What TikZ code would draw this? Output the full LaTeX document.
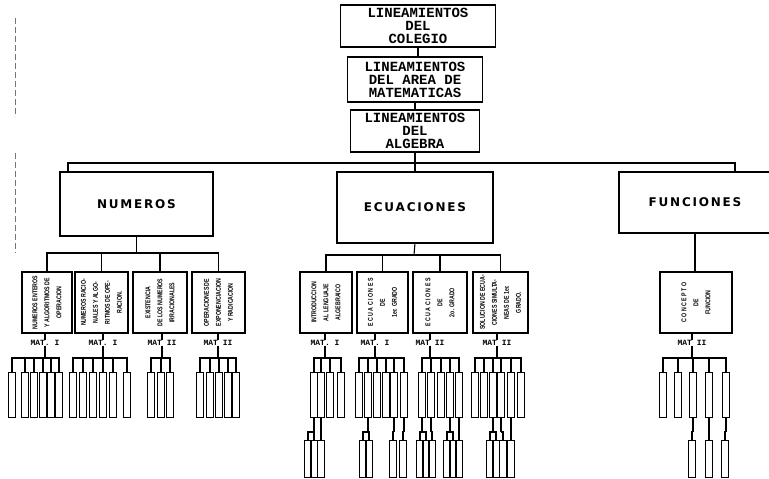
\documentclass[tikz,border=0pt]{standalone}
\usepackage{fontspec}
\usepackage{graphicx}
\setmainfont{Liberation Sans}
\newfontfamily\typefont{Liberation Mono}
\newfontfamily\headfont{DejaVu Sans}[LetterSpace=15]
\newfontfamily\narrowfont{Liberation Sans}[FakeStretch=0.75]
\usetikzlibrary{positioning}

\newcommand{\upright}[1]{\rotatebox{90}{\begin{tabular}{@{}c@{}}#1\end{tabular}}}

\begin{document}
\begin{tikzpicture}[
    x=1pt, y=-1pt,
    line width=1.1pt,
    every node/.style={inner sep=0pt, outer sep=0pt},
    topbox/.style={draw, align=center,
                   font=\typefont\bfseries\fontsize{14}{13}\selectfont},
    areabox/.style={draw, align=center,
                    font=\headfont\bfseries\fontsize{12}{14}\selectfont},
    subbox/.style={draw, minimum height=61pt,
                   font=\narrowfont\bfseries\fontsize{7}{12}\selectfont},
    matlabel/.style={font=\typefont\bfseries\fontsize{8}{9}\selectfont},
    leaf/.style={draw, minimum width=6.5pt, minimum height=45pt, line width=1pt},
    scanedge/.style={draw=black!55, line width=0.6pt, dash pattern=on 6pt off 3pt},
]
\useasboundingbox (0,0) rectangle (769,479);

% Top column of guideline boxes
\node[topbox, minimum width=155pt, minimum height=42pt] (colegio) at (418,26)
      {LINEAMIENTOS\\DEL\\COLEGIO};
\node[topbox, minimum width=135pt, minimum height=45pt, xshift=-3pt] (area) [below=10pt of colegio]
      {LINEAMIENTOS\\DEL AREA DE\\MATEMATICAS};
\node[topbox, minimum width=129pt, minimum height=42pt] (algebra) [below=8pt of area]
      {LINEAMIENTOS\\DEL\\ALGEBRA};

% Three main areas
\node[areabox, minimum width=153pt, minimum height=64pt] (numeros)    at (136.5,204) {NUMEROS};
\node[areabox, minimum width=156pt, minimum height=71pt] (ecuaciones) at (415,207.5) {ECUACIONES};
\node[areabox, minimum width=152pt, minimum height=61pt] (funciones)  at (695,202.5) {FUNCIONES};

% Topic boxes (text turned upright)
\node[subbox, minimum width=50pt] (n1) at (47,302.5)
      {\upright{NUMEROS ENTEROS\\Y ALGORITMOS DE\\OPERACION}};
\node[subbox, minimum width=53pt] (n2) at (101.5,302.5)
      {\upright{NUMEROS RACIO-\\NALES Y ALGO-\\RITMOS DE OPE-\\RACION.}};
\node[subbox, minimum width=54pt] (n3) at (160,302.5)
      {\upright{EXISTENCIA\\DE LOS NUMEROS\\IRRACIONALES}};
\node[subbox, minimum width=53pt] (n4) at (218.5,302.5)
      {\upright{OPERACIONES DE\\EXPONENCIACION\\Y RADICACION}};
\node[subbox, minimum width=52pt] (e1) at (326,302.5)
      {\upright{INTRODUCCION\\AL LENGUAJE\\ALGEBRAICO}};
\node[subbox, minimum width=51pt] (e2) at (382.5,302.5)
      {\upright{E C U A C I O N E S\\DE\\1er. GRADO}};
\node[subbox, minimum width=54pt] (e3) at (440,302.5)
      {\upright{E C U A C I O N E S\\DE\\2o. GRADO}};
\node[subbox, minimum width=55pt] (e4) at (500.5,302.5)
      {\upright{SOLUCION DE ECUA-\\CIONES SIMULTA-\\NEAS DE 1er.\\GRADO.}};
\node[subbox, minimum width=72pt] (f1) at (696,302.5)
      {\upright{C O N C E P T O\\DE\\FUNCION}};

% Course labels
\node[matlabel] (matn1) at (45,343)  {MAT. I};
\node[matlabel] (matn2) at (103,343) {MAT. I};
\node[matlabel] (matn3) at (162,343) {MAT II};
\node[matlabel] (matn4) at (218,343) {MAT II};
\node[matlabel] (mate1) at (325,343) {MAT. I};
\node[matlabel] (mate2) at (375,343) {MAT. I};
\node[matlabel] (mate3) at (430,343) {MAT II};
\node[matlabel] (mate4) at (497,343) {MAT II};
\node[matlabel] (matf1) at (692,343) {MAT II};

% Connectors from the top column
\draw (colegio) -- (colegio.south |- area.north);
\draw (area) -- (area.south |- algebra.north);
\coordinate (abus) at (416,163);
\draw (algebra.south) -- (algebra.south |- ecuaciones.north);
\draw ([xshift=8pt]numeros.north west) |- (abus);
\draw ([xshift=-36pt]funciones.north east) |- (abus);

% Areas to topics
\coordinate (nbus) at (136.5,253);
\coordinate (ebus) at (414,255);
\draw (numeros) -- (nbus);
\draw (ecuaciones.south) -- (ebus);
\foreach \s in {n1,n2,n3,n4} \draw (\s.north) |- (nbus);
\foreach \s in {e1,e2,e3,e4} \draw (\s.north) |- (ebus);
\draw (funciones.south) -- (funciones.south |- f1.north);

% Topics to course labels
\foreach \s in {n1,n2,n3,n4,e1,e2,e3,e4,f1}
    \draw (mat\s.north |- \s.south) -- (mat\s.north);

% First row of units
\foreach \g/\xs in {n1/{12,25,34,43,51,59}, n2/{73,83,93,103,113,127},
                    n3/{151,161,170}, n4/{200,210,219,228,236},
                    e1/{314,321,330,341}, e2/{359,368,377,386,394,404},
                    e3/{422,431,441,450,459}, e4/{475,484,493,501,511,521},
                    f1/{663,678,693,709,726}}{
    \draw (mat\g.south) -- (mat\g.south |- 0,358);
    \foreach \x [count=\i] in \xs {
        \node[leaf] (\g-\i) at (\x,394.5) {};
        \draw (\g-\i.north) |- (mat\g.south |- 0,358);
    }
}

% Second row of units
\foreach \p/\xs in {e1-1/{308,314}, e1-2/{321}, e2-2/{363,369}, e2-5/{393}, e2-6/{403},
                    e3-1/{420,426}, e3-2/{432}, e3-4/{447,453}, e3-5/{459},
                    e4-3/{490,496}, e4-4/{503}, e4-5/{511},
                    f1-3/{692}, f1-4/{709}, f1-5/{725}}{
    \draw (\p.south) -- (\p.south |- 0,432);
    \foreach \x [count=\i] in \xs {
        \node[leaf, minimum height=37pt] (\p-\i) at (\x,458.5) {};
        \draw (\p-\i.north) |- (\p.south |- 0,432);
    }
}

% Scanned page edge
\draw[scanedge] (15,18) -- (15,117) (15,153) -- (15,253);
\end{tikzpicture}
\end{document}
